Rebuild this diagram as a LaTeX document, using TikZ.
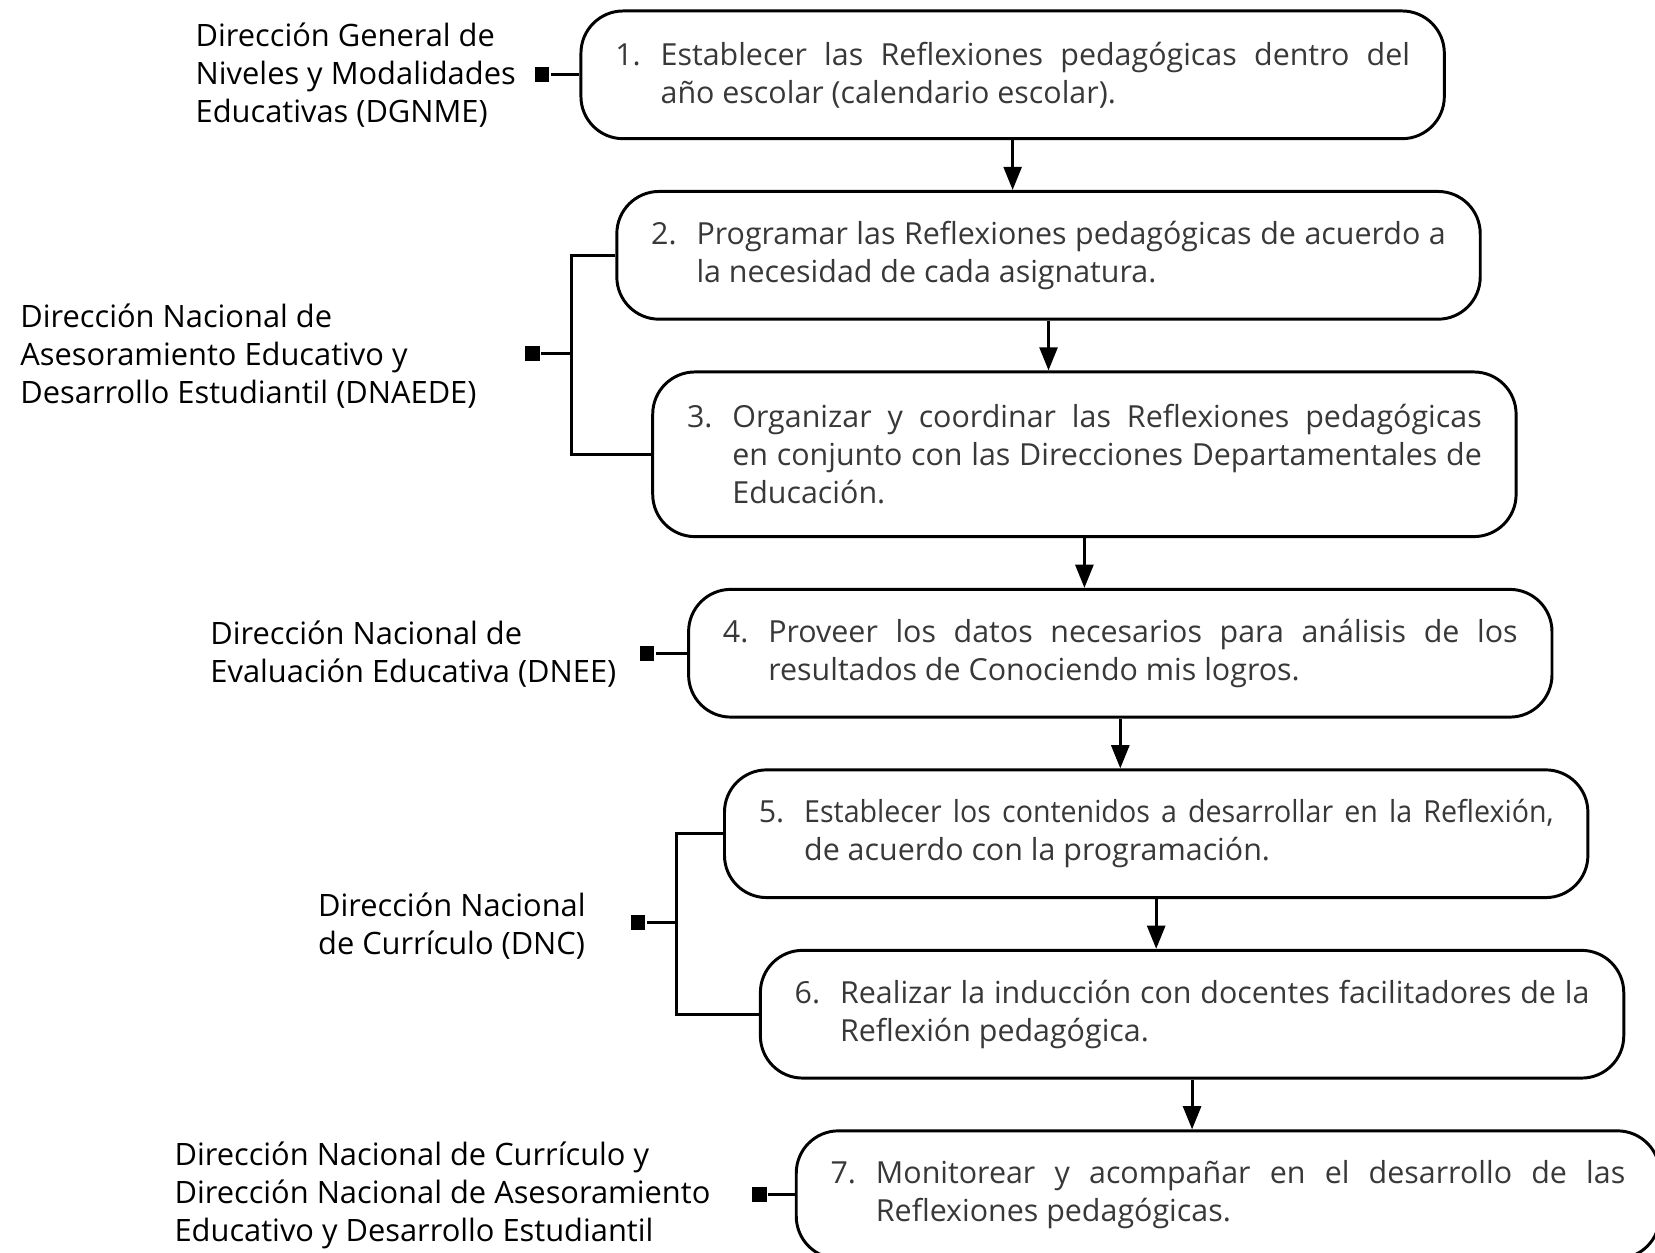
\documentclass[tikz,border=0pt]{standalone}
\usepackage{fontspec}
\setmainfont{Open Sans}
\newfontfamily\narrowfont{Open Sans}[FakeStretch=0.94]
\usetikzlibrary{positioning,arrows.meta}

\newcommand{\stepitem}[2]{\makebox[21.5pt][l]{#1.}\parbox[t]{355pt}{\hyphenpenalty=10000 #2}}

\begin{document}
\begin{tikzpicture}[-,>={Triangle[length=11pt,width=8.5pt]},x=0.5pt,y=-0.5pt,node distance=23.6pt,line width=1.4pt,
    step node/.style={draw,rounded corners=20pt,align=left,inner xsep=16.25pt,inner ysep=11pt,minimum height=60.5pt,text=black!78,font=\fontsize{14.4}{18}\selectfont},
    label node/.style={anchor=west,align=left,inner sep=0pt,font=\fontsize{14.6}{18}\selectfont},
    mark node/.style={fill,rectangle,minimum size=7pt,inner sep=0pt}]
    \useasboundingbox (0,0) rectangle (1568,1187);

    \node[step node,anchor=north west] (1) at (549,9) {\stepitem{1}{Establecer las Reflexiones pedagógicas dentro del \linebreak año escolar (calendario escolar).}};
    \node[step node] (2) [below=of 1,xshift=17pt] {\stepitem{2}{Programar las Reflexiones pedagógicas de acuerdo a \linebreak la necesidad de cada asignatura.}};
    \node[step node,minimum height=78pt] (3) [below=of 2,xshift=17pt] {\stepitem{3}{Organizar y coordinar las Reflexiones pedagógicas \linebreak en conjunto con las Direcciones Departamentales de \linebreak Educación.}};
    \node[step node] (4) [below=of 3,xshift=17pt] {\stepitem{4}{Proveer los datos necesarios para análisis de los \linebreak resultados de Conociendo mis logros.}};
    \node[step node] (5) [below=of 4,xshift=17pt] {\stepitem{5}{{\narrowfont Establecer los contenidos a desarrollar en la Reflexión,} \linebreak de acuerdo con la programación.}};
    \node[step node] (6) [below=of 5,xshift=17pt] {\stepitem{6}{Realizar la inducción con docentes facilitadores de la \linebreak Reflexión pedagógica.}};
    \node[step node] (7) [below=of 6,xshift=17pt] {\stepitem{7}{Monitorear y acompañar en el desarrollo de las \linebreak Reflexiones pedagógicas.}};

    \node[label node] (d1) at (184,71) {Dirección General de\\Niveles y Modalidades\\Educativas (DGNME)};
    \node[label node] (d2) at (18,337) {Dirección Nacional de\\Asesoramiento Educativo y\\Desarrollo Estudiantil (DNAEDE)};
    \node[label node] (d3) at (198,620) {Dirección Nacional de\\Evaluación Educativa (DNEE)};
    \node[label node] (d4) at (300,877) {Dirección Nacional\\de Currículo (DNC)};
    \node[label node] (d5) at (164,1133) {Dirección Nacional de Currículo y\\Dirección Nacional de Asesoramiento\\Educativo y Desarrollo Estudiantil};

    \node[mark node] (m1) at (513.5,0 |- 1.west) {};
    \node[mark node] (m2) at (504.5,335) {};
    \node[mark node] (m3) at (613,0 |- 4.west) {};
    \node[mark node] (m4) at (604.5,874) {};
    \node[mark node] (m5) at (719.5,0 |- 7.west) {};
    \coordinate (b2) at (541,335);
    \coordinate (b4) at (641,874);

    % arrows between the steps
    \path
        (1.south) edge[->] (1.south |- 2.north)
        (2.south) edge[->] (2.south |- 3.north)
        (3.south) edge[->] (3.south |- 4.north)
        (4.south) edge[->] (4.south |- 5.north)
        (5.south) edge[->] (5.south |- 6.north)
        (6.south) edge[->] (6.south |- 7.north)
        ;

    % links to the offices
    \draw (m1) -- (1.west);
    \draw (m2) -- (b2);
    \draw (2.west) -| (b2) |- (3.west);
    \draw (m3) -- (4.west);
    \draw (m4) -- (b4);
    \draw (5.west) -| (b4) |- (6.west);
    \draw (m5) -- (7.west);
\end{tikzpicture}
\end{document}
